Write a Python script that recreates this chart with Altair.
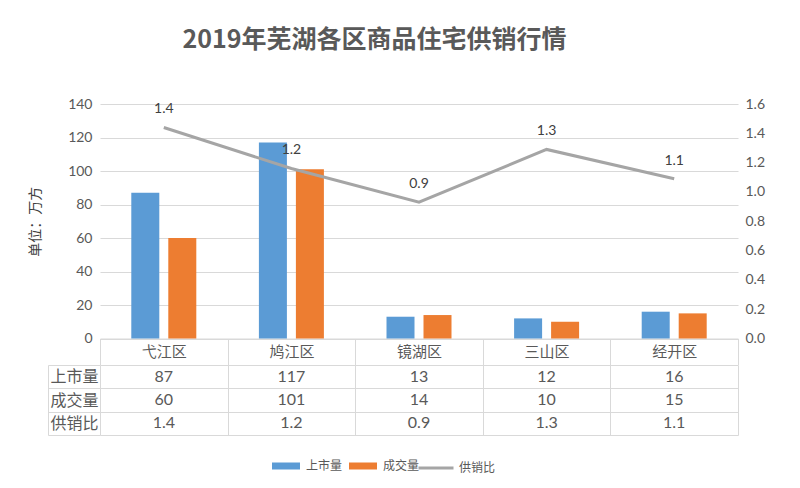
import altair as alt
import pandas as pd

# ---- data ----
categories = ["弋江区", "鸠江区", "镜湖区", "三山区", "经开区"]
supply = [87, 117, 13, 12, 16]          # 上市量
sales = [60, 101, 14, 10, 15]           # 成交量
ratio = [1.44, 1.16, 0.93, 1.29, 1.09]  # 供销比
bar_series = ["上市量", "成交量"]
line_series = "供销比"
row_labels = ["上市量", "成交量", "供销比"]
left_ticks = [0, 20, 40, 60, 80, 100, 120, 140]
right_ticks = [0.0, 0.2, 0.4, 0.6, 0.8, 1.0, 1.2, 1.4, 1.6]

BLUE, ORANGE, GRAY = "#5B9BD5", "#ED7D31", "#A5A5A5"
GRID = "#D9D9D9"
TXT = "#595959"
CJK = "Noto Sans CJK SC"
NUM = "Lato"

bars_df = pd.DataFrame({
    "district": categories * 2,
    "series": [bar_series[0]] * len(categories) + [bar_series[1]] * len(categories),
    "value": supply + sales,
})
line_df = pd.DataFrame({"district": categories, "ratio": ratio,
                        "series": [line_series] * len(categories)})
table_df = pd.DataFrame({
    "district": categories * 3,
    "row": sum([[r] * len(categories) for r in row_labels], []),
    "label": [str(v) for v in supply] + [str(v) for v in sales] + [f"{v:.1f}" for v in ratio],
})

W = 638
H = 234.5

band = alt.Scale(paddingInner=0, paddingOuter=0)
x_top = alt.X(
    "district:N", sort=categories, scale=band,
    axis=alt.Axis(title=None, orient="bottom", domain=True, domainColor=GRID, domainWidth=1,
                  ticks=True, tickSize=26, tickBand="extent", tickColor=GRID, tickWidth=1,
                  labelPadding=-13, labelBaseline="middle", labelFontSize=15, labelColor=TXT,
                  labelFont=CJK, labelAngle=0, grid=False, minExtent=0),
)

bars = alt.Chart(bars_df).mark_bar().encode(
    x=x_top,
    xOffset=alt.XOffset("series:N", sort=bar_series,
                        scale=alt.Scale(paddingInner=0.243, paddingOuter=0.846)),
    y=alt.Y("value:Q", scale=alt.Scale(domain=[0, 140]),
            axis=alt.Axis(orient="left", values=left_ticks, title="单位：万方", titleFont=CJK,
                          titleFontSize=14, titleFontWeight="normal", titleColor="#404040",
                          titlePadding=25, domain=False, ticks=False, grid=True,
                          gridColor=GRID, labelFont=NUM, labelFontSize=14, labelColor=TXT,
                          labelPadding=8)),
    color=alt.Color("series:N", sort=bar_series,
                    scale=alt.Scale(domain=bar_series, range=[BLUE, ORANGE]),
                    legend=alt.Legend(title=None, orient="none", legendX=172, legendY=348,
                                      direction="horizontal",
                                      symbolType="M-1,-0.25H1V0.25H-1Z", symbolSize=784,
                                      symbolStrokeWidth=0, labelFontSize=12, labelColor=TXT,
                                      labelFont=CJK, labelOffset=6, columnPadding=6)),
)

y_ratio_scale = alt.Scale(domain=[0, 1.6])
line = alt.Chart(line_df).mark_line(strokeWidth=3).encode(
    x=x_top,
    y=alt.Y("ratio:Q", scale=y_ratio_scale,
            axis=alt.Axis(orient="right", values=right_ticks, format=".1f", title=None,
                          domain=False, ticks=False, grid=False,
                          labelFont=NUM, labelFontSize=14, labelColor=TXT, labelPadding=7)),
    stroke=alt.Stroke("series:N", scale=alt.Scale(domain=[line_series], range=[GRAY]),
                      legend=alt.Legend(title=None, orient="none", legendX=317, legendY=345,
                                        direction="horizontal", symbolType="stroke",
                                        symbolSize=1225, symbolStrokeWidth=3,
                                        labelFontSize=12, labelColor=TXT, labelFont=CJK,
                                        labelOffset=4)),
)
labels = alt.Chart(line_df).mark_text(dy=-18, fontSize=14, color="#404040", font=NUM).encode(
    x=x_top,
    y=alt.Y("ratio:Q", scale=y_ratio_scale, axis=None),
    text=alt.Text("ratio:Q", format=".1f"),
)

top = alt.layer(bars, line, labels).resolve_scale(y="independent").properties(
    width=W, height=H)

x_tab = alt.X("district:N", sort=categories, scale=band,
              axis=alt.Axis(title=None, labels=False, ticks=False, domain=False, grid=True,
                            tickBand="extent", gridColor=GRID))
table_text = alt.Chart(table_df).mark_text(fontSize=16, color=TXT, font=NUM).encode(
    x=x_tab,
    y=alt.Y("row:N", sort=row_labels, scale=band,
            axis=alt.Axis(title=None, orient="left", domain=False, grid=True, gridColor=GRID,
                          tickBand="extent", ticks=True, tickSize=52, tickColor=GRID,
                          labelPadding=-26, labelAlign="center", labelBaseline="middle",
                          labelFontSize=16, labelColor=TXT, labelFont=CJK)),
    text="label:N",
)
table_edge = alt.Chart(table_df).mark_text(opacity=0).encode(
    x=x_tab,
    y=alt.Y("row:N", sort=row_labels, scale=band,
            axis=alt.Axis(title=None, orient="left", offset=52, labels=False, ticks=False,
                          grid=False, domain=True, domainColor=GRID)),
    text="label:N",
)
table = alt.layer(table_text, table_edge).resolve_axis(y="independent").properties(
    width=W, height=70)

chart = alt.vconcat(top, table, spacing=-8).properties(
    title=alt.TitleParams("2019年芜湖各区商品住宅供销行情", font=CJK, fontSize=25,
                          fontWeight="bold", color=TXT, anchor="middle", dx=-22, offset=44),
    padding={"left": 20, "top": 20, "right": 10, "bottom": 10},
    background="white",
).configure(font=CJK).configure_view(stroke=None)

chart.save("out.html", embed_options={"renderer": "svg", "actions": False})
